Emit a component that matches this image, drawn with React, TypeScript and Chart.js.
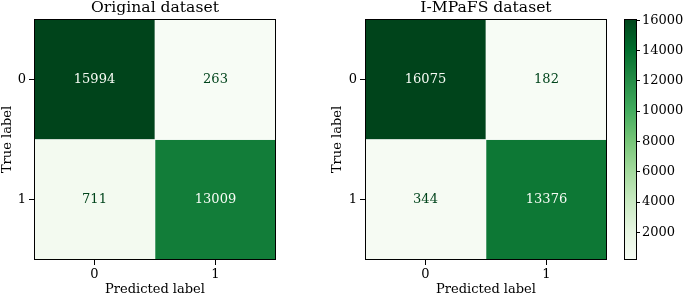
import React, { useEffect, useRef } from 'react';
import { Chart, registerables } from 'chart.js';

Chart.register(...registerables);

// ---- data ----
const predictedLabels = ['0', '1'];
const trueLabels = ['0', '1'];
const originalMatrix = [
  [15994, 263],
  [711, 13009],
];
const impafsMatrix = [
  [16075, 182],
  [344, 13376],
];
const colorbarTicks = [2000, 4000, 6000, 8000, 10000, 12000, 14000, 16000];
const panelTitles = ['Original dataset', 'I-MPaFS dataset'];
const xAxisTitle = 'Predicted label';
const yAxisTitle = 'True label';

// matplotlib "Greens" colormap anchors
const GREENS = ['#f7fcf5', '#e5f5e0', '#c7e9c0', '#a1d99b', '#74c476', '#41ab5d', '#238b45', '#006d2c', '#00441b'];

const FONT = "'DejaVu Serif', 'Liberation Serif', serif";

function hexToRgb(h: string) {
  const n = parseInt(h.slice(1), 16);
  return [(n >> 16) & 255, (n >> 8) & 255, n & 255];
}
function greens(t: number) {
  const tt = Math.max(0, Math.min(1, t));
  const pos = tt * (GREENS.length - 1);
  const i = Math.min(GREENS.length - 2, Math.floor(pos));
  const f = pos - i;
  const a = hexToRgb(GREENS[i]);
  const b = hexToRgb(GREENS[i + 1]);
  const c = a.map((v, k) => Math.round(v + (b[k] - v) * f));
  return `rgb(${c[0]},${c[1]},${c[2]})`;
}
function matMin(m: number[][]) { return Math.min(...m.flat()); }
function matMax(m: number[][]) { return Math.max(...m.flat()); }

const framePlugin = {
  id: 'frame',
  afterDraw(chart: any) {
    const { ctx, chartArea } = chart;
    if (!chartArea) return;
    ctx.save();
    ctx.strokeStyle = '#000';
    ctx.lineWidth = 1;
    const l = Math.round(chartArea.left) + 0.5;
    const t = Math.round(chartArea.top) + 0.5;
    const r = Math.round(chartArea.right) - 0.5;
    const b = Math.round(chartArea.bottom) - 0.5;
    ctx.strokeRect(l, t, r - l, b - t);
    ctx.restore();
  },
};

const cellTextPlugin = {
  id: 'cellText',
  afterDatasetsDraw(chart: any, _args: any, opts: any) {
    const matrix: number[][] = opts.matrix;
    if (!matrix) return;
    const mn = matMin(matrix);
    const mx = matMax(matrix);
    const thresh = (mn + mx) / 2;
    const { ctx } = chart;
    ctx.save();
    ctx.font = `13px ${FONT}`;
    ctx.textAlign = 'center';
    ctx.textBaseline = 'middle';
    matrix.forEach((row, r) => {
      const meta = chart.getDatasetMeta(r);
      meta.data.forEach((el: any, c: number) => {
        const p = el.getProps(['x', 'y', 'base'], true);
        const v = row[c];
        ctx.fillStyle = v < thresh ? greens(1) : greens(0);
        ctx.fillText(String(v), p.x, (p.y + p.base) / 2);
      });
    });
    ctx.restore();
  },
};

function matrixConfig(matrix: number[][], title: string, yAxisWidth: number, rightPad: number): any {
  const mn = matMin(matrix);
  const mx = matMax(matrix);
  const nRows = trueLabels.length;
  const nCols = predictedLabels.length;
  return {
    type: 'bar',
    data: {
      labels: predictedLabels,
      datasets: trueLabels.map((lbl, r) => ({
        label: lbl,
        data: matrix[r].map(() => [r, r + 1]),
        backgroundColor: matrix[r].map((v) => greens((v - mn) / (mx - mn))),
        borderColor: '#ffffff',
        borderSkipped: false,
        borderWidth: (ctx: any) => ({
          top: r > 0 ? 0.6 : 0,
          bottom: r < nRows - 1 ? 0.6 : 0,
          left: ctx.dataIndex > 0 ? 0.6 : 0,
          right: ctx.dataIndex < nCols - 1 ? 0.6 : 0,
        }),
        grouped: false,
        barPercentage: 1,
        categoryPercentage: 1,
      })),
    },
    options: {
      animation: false,
      responsive: true,
      maintainAspectRatio: false,
      events: [],
      layout: { padding: { left: 0, right: rightPad, top: 0, bottom: 0 } },
      plugins: {
        legend: { display: false },
        tooltip: { enabled: false },
        title: {
          display: true,
          fullSize: false,
          text: title,
          color: '#000',
          font: { family: FONT, size: 15.6, weight: 'normal', lineHeight: 15 / 15.6 },
          padding: { top: 0.5, bottom: 3.5 },
        },
        cellText: { matrix },
      },
      scales: {
        x: {
          type: 'category',
          offset: true,
          grid: { display: true, offset: false, drawOnChartArea: false, drawTicks: true, tickLength: 5, color: '#000', lineWidth: 1 },
          border: { display: false },
          ticks: { color: '#000', font: { family: FONT, size: 13 }, padding: 2, maxRotation: 0, autoSkip: false },
          title: { display: true, text: xAxisTitle, color: '#000', font: { family: FONT, size: 13 }, padding: { top: -0.5, bottom: 0 } },
          afterFit: (s: any) => { s.height = 37; },
        },
        y: {
          type: 'linear',
          min: 0,
          max: nRows,
          reverse: true,
          grid: { display: true, drawOnChartArea: false, drawTicks: true, tickLength: 5, color: '#000', lineWidth: 1 },
          border: { display: false },
          afterBuildTicks: (s: any) => { s.ticks = trueLabels.map((_, i) => ({ value: i + 0.5 })); },
          ticks: {
            color: '#000',
            font: { family: FONT, size: 13 },
            padding: 3,
            autoSkip: false,
            callback: (v: any) => trueLabels[Math.floor(Number(v))],
          },
          title: { display: true, text: yAxisTitle, color: '#000', font: { family: FONT, size: 13 }, padding: { top: 0, bottom: 0 } },
          afterFit: (s: any) => { s.width = yAxisWidth; },
        },
      },
    },
    plugins: [cellTextPlugin, framePlugin],
  };
}

function colorbarConfig(matrix: number[][]): any {
  const mn = matMin(matrix);
  const mx = matMax(matrix);
  return {
    type: 'bar',
    data: {
      labels: [''],
      datasets: [
        {
          data: [[mn, mx]],
          barPercentage: 1,
          categoryPercentage: 1,
          borderWidth: 0,
          backgroundColor: (ctx: any) => {
            const ca = ctx.chart.chartArea;
            if (!ca) return GREENS[0];
            const g = ctx.chart.ctx.createLinearGradient(0, ca.bottom, 0, ca.top);
            GREENS.forEach((c, i) => g.addColorStop(i / (GREENS.length - 1), c));
            return g;
          },
        },
      ],
    },
    options: {
      animation: false,
      responsive: true,
      maintainAspectRatio: false,
      events: [],
      layout: { padding: { left: 9, right: 0, top: 19, bottom: 37 } },
      plugins: { legend: { display: false }, tooltip: { enabled: false }, title: { display: false } },
      scales: {
        x: { display: false, offset: true },
        y: {
          type: 'linear',
          position: 'right',
          min: mn,
          max: mx,
          grid: { display: true, drawOnChartArea: false, drawTicks: true, tickLength: 3, color: '#000', lineWidth: 1 },
          border: { display: false },
          afterBuildTicks: (s: any) => { s.ticks = colorbarTicks.map((v) => ({ value: v })); },
          ticks: {
            color: '#000',
            font: { family: FONT, size: 13 },
            padding: 2,
            autoSkip: false,
            callback: (v: any) => String(v),
          },
          afterFit: (s: any) => { s.width = 48; },
        },
      },
    },
    plugins: [framePlugin],
  };
}

function ChartBox({ config, left, width }: { config: any; left: number; width: number }) {
  const ref = useRef<HTMLCanvasElement>(null);
  useEffect(() => {
    if (!ref.current) return;
    const chart = new Chart(ref.current, config);
    return () => chart.destroy();
  }, [config]);
  return (
    <div style={{ position: 'absolute', left, top: 0, width, height: 297 }}>
      <canvas ref={ref} />
    </div>
  );
}

const cfgA = matrixConfig(originalMatrix, panelTitles[0], 34, 24);
const cfgB = matrixConfig(impafsMatrix, panelTitles[1], 35, 13);
const cfgC = colorbarConfig(impafsMatrix);

export default function App() {
  return (
    <div style={{ position: 'absolute', left: 0, top: 0, width: 685, height: 297, background: '#fff', overflow: 'hidden' }}>
      <ChartBox config={cfgA} left={0} width={300} />
      <ChartBox config={cfgB} left={330} width={290} />
      <ChartBox config={cfgC} left={615} width={70} />
    </div>
  );
}
